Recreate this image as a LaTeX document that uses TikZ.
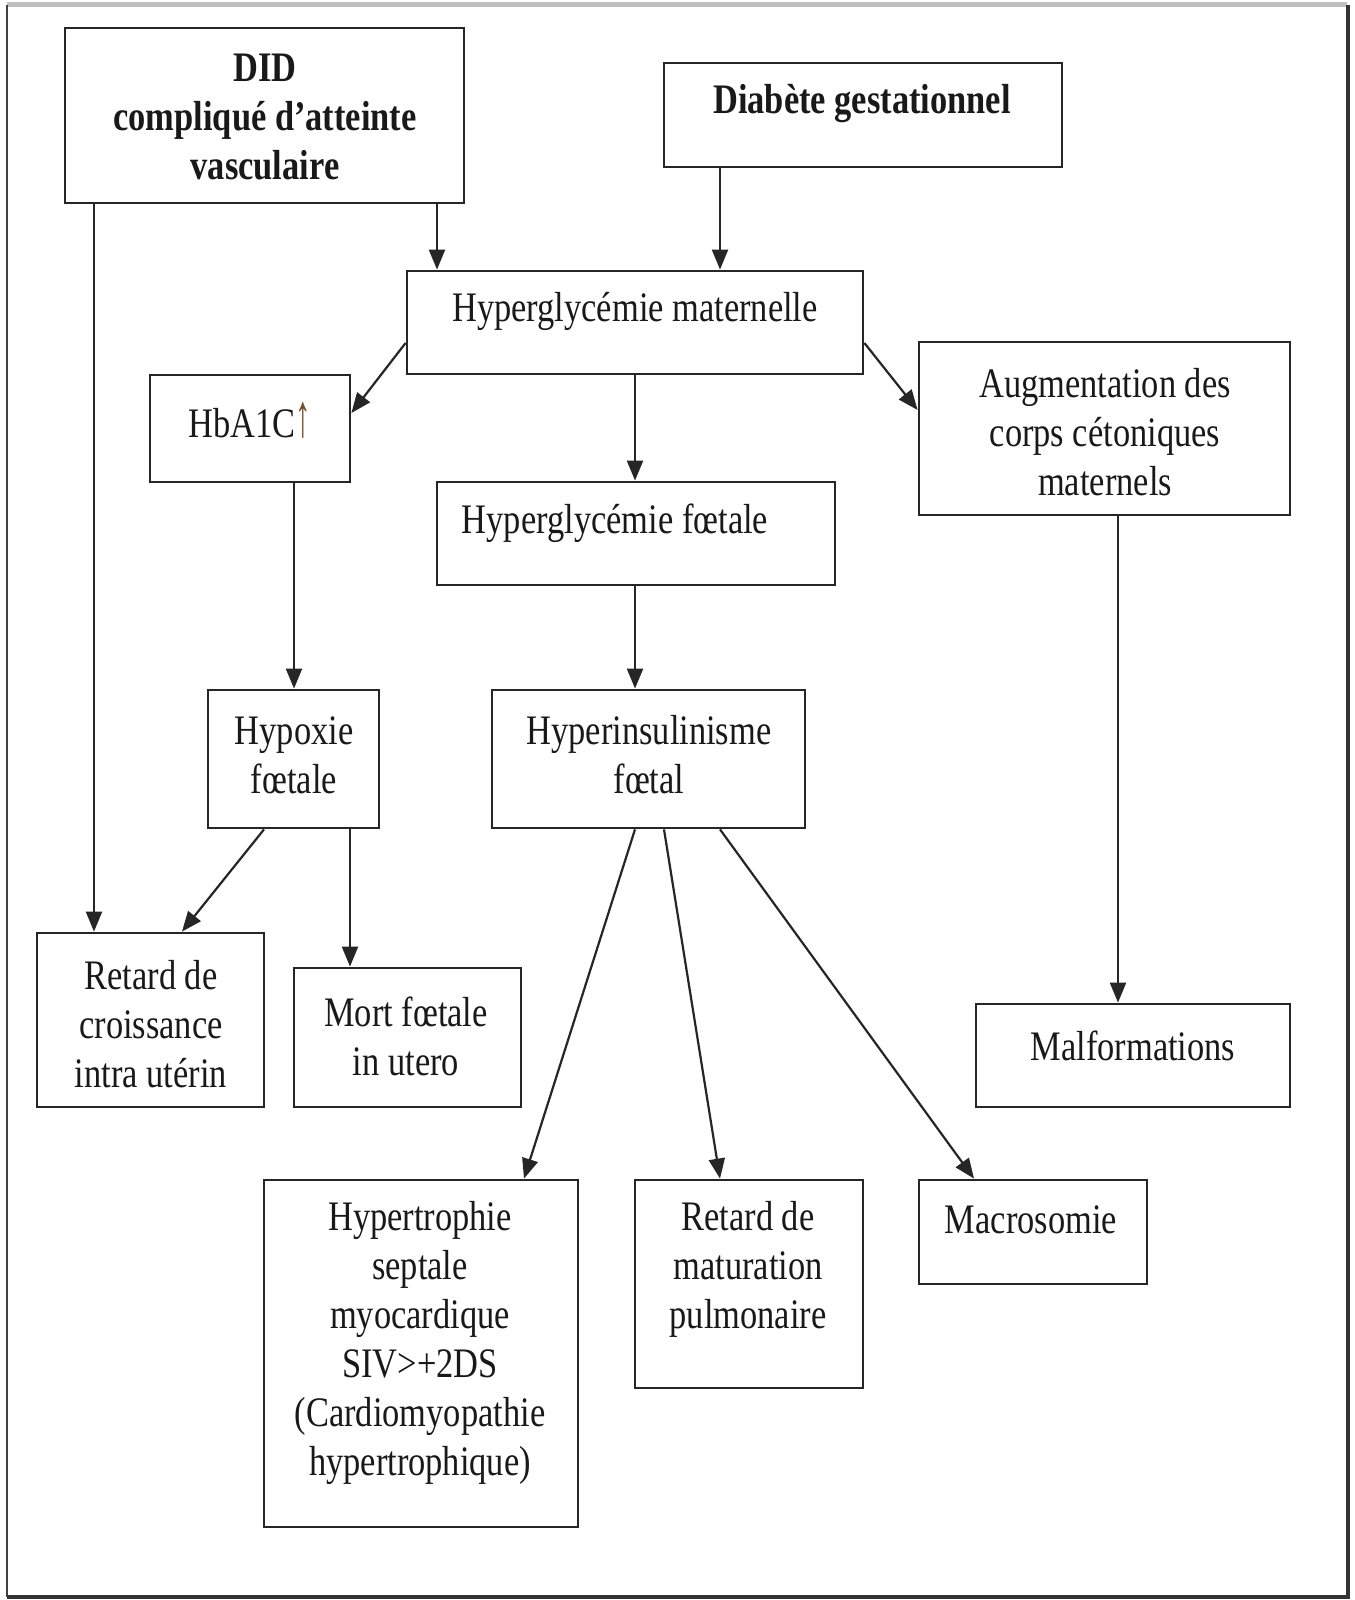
\documentclass[tikz,border=0pt]{standalone}
\usepackage{fontspec}
\setmainfont{Liberation Serif}[FakeStretch=0.82]
\usetikzlibrary{arrows.meta,calc}

\begin{document}
\begin{tikzpicture}[x=0.5pt,y=-0.5pt,
  box/.style={draw=black!85, line width=1.4pt, inner sep=0pt, fill=white},
  txt/.style={align=center, inner sep=0pt, text=black!90,
    font=\fontsize{21}{24.5}\selectfont},
  arr/.style={draw=black!85, line width=1.1pt,
    -{Triangle[length=10pt,width=8pt]}}]

% page frame
\useasboundingbox (0,0) rectangle (1354,1600);
\fill[white] (0,0) rectangle (1354,1600);
\draw[black!25, line width=2.5pt] (7,5) -- (1347,5);
\draw[black!75, line width=1pt] (7,5) -- (7,1597);
\draw[black!80, line width=1.6pt] (7,1597) -- (1348,1597) -- (1348,5);

% boxes
\node[box, minimum width=199.5pt, minimum height=87.5pt] (did) at (264.5,115.5) {};
\node[box, minimum width=199pt,   minimum height=52pt]   (dg)  at (863,115) {};
\node[box, minimum width=228pt,   minimum height=51.5pt] (hm)  at (635,322.5) {};
\node[box, minimum width=100pt,   minimum height=53.5pt] (hba) at (250,428.5) {};
\node[box, minimum width=185.5pt, minimum height=86.5pt] (aug) at (1104.5,428.5) {};
\node[box, minimum width=199pt,   minimum height=51.5pt] (hf)  at (636,533.5) {};
\node[box, minimum width=85.5pt,  minimum height=69pt]   (hyx) at (293.5,759) {};
\node[box, minimum width=156.5pt, minimum height=69pt]   (hi)  at (648.5,759) {};
\node[box, minimum width=113.5pt, minimum height=87pt]   (rcu) at (150.5,1020) {};
\node[box, minimum width=113.5pt, minimum height=69.5pt] (mort) at (407.5,1037.5) {};
\node[box, minimum width=157pt,   minimum height=51.5pt] (mal) at (1133,1055.5) {};
\node[box, minimum width=157pt,   minimum height=173.5pt] (hyp) at (421,1353.5) {};
\node[box, minimum width=114pt,   minimum height=104pt]  (rmp) at (749,1284) {};
\node[box, minimum width=114pt,   minimum height=52pt]   (mac) at (1033,1232) {};

% labels
\node[txt, font=\fontsize{21}{24.5}\selectfont\bfseries] (did-t) at (265,117)
  {DID\\compliqué d’atteinte\\vasculaire};
\node[txt, font=\fontsize{21}{24.5}\selectfont\bfseries] (dg-t) at (862,104)
  {Diabète gestationnel};
\node[txt] (hm-t)  at (635,311)  {Hyperglycémie maternelle};
\node[txt] (hba-t) at (250,420)
  {HbA1C\textcolor{brown!60!black}{\raisebox{0.5pt}{\scalebox{0.9}[1.45]{↑}}}};
\node[txt] (aug-t) at (1105,432) {Augmentation des\\corps cétoniques\\maternels};
\node[txt] (hf-t)  at (615,523)  {Hyperglycémie fœtale};
\node[txt] (hyx-t) at (294,755)  {Hypoxie\\fœtale};
\node[txt] (hi-t)  at (649,755)  {Hyperinsulinisme\\fœtal};
\node[txt] (rcu-t) at (151,1024) {Retard de\\croissance\\intra utérin};
\node[txt] (mort-t) at (406,1036) {Mort fœtale\\in utero};
\node[txt] (mal-t) at (1133,1046) {Malformations};
\node[txt] (hyp-t) at (420,1343) {Hypertrophie\\septale\\myocardique\\SIV>+2DS\\(Cardiomyopathie\\hypertrophique)};
\node[txt] (rmp-t) at (748,1269) {Retard de\\maturation\\pulmonaire};
\node[txt] (mac-t) at (1031,1220) {Macrosomie};

% guide points for the connectors
\coordinate (x94)  at (94,0);
\coordinate (x437) at (437,0);
\coordinate (x720) at (720,0);
\coordinate (x635) at (635,0);
\coordinate (x294) at (294,0);
\coordinate (x264) at (264,0);
\coordinate (x182) at (182,0);
\coordinate (x350) at (350,0);
\coordinate (x524) at (524,0);
\coordinate (x664) at (664,0);
\coordinate (x974) at (974,0);
\coordinate (x1118) at (1118,0);
\coordinate (y343) at (0,343);
\coordinate (y413) at (0,413);
\coordinate (y410) at (0,410);

% connectors
\draw[arr] (did.south -| x437) -- (hm.north -| x437);
\draw[arr] (did.south -| x94) -- (rcu.north -| x94);
\draw[arr] (dg.south -| x720) -- (hm.north -| x720);
\draw[arr] (hm.west |- y343) -- (hba.east |- y413);
\draw[arr] (hm.east |- y343) -- (aug.west |- y410);
\draw[arr] (hm.south -| x635) -- (hf.north -| x635);
\draw[arr] (hf.south -| x635) -- (hi.north -| x635);
\draw[arr] (hba.south -| x294) -- (hyx.north -| x294);
\draw[arr] (hyx.south -| x264) -- (rcu.north -| x182);
\draw[arr] (hyx.south -| x350) -- (mort.north -| x350);
\draw[arr] (hi.south -| x635) -- (hyp.north -| x524);
\draw[arr] (hi.south -| x664) -- (rmp.north -| x720);
\draw[arr] (hi.south -| x720) -- (mac.north -| x974);
\draw[arr] (aug.south -| x1118) -- (mal.north -| x1118);
\end{tikzpicture}
\end{document}
